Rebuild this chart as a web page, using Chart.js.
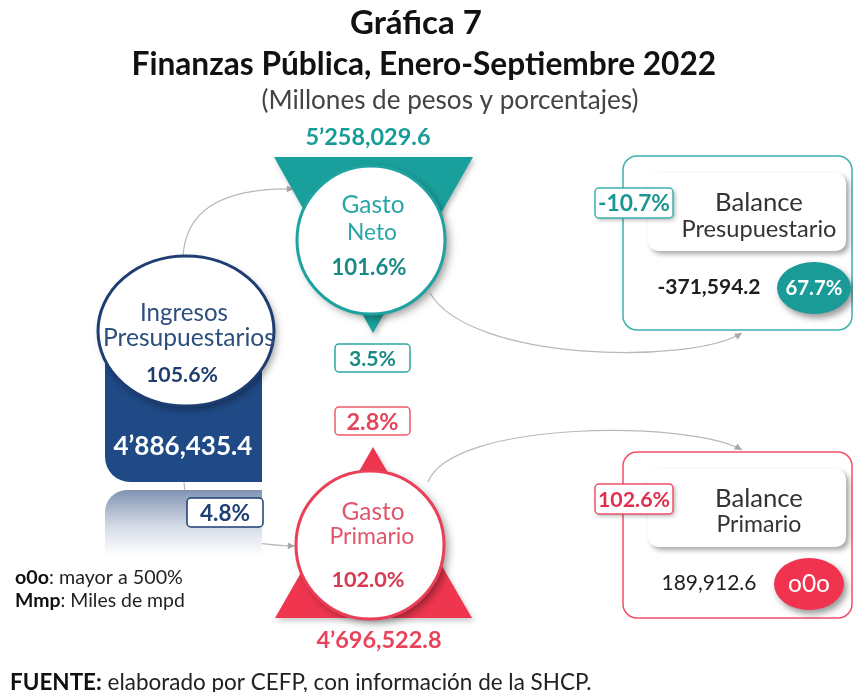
<!DOCTYPE html>
<html><head><meta charset="utf-8">
<script src="https://cdn.jsdelivr.net/npm/chart.js@4"></script>
<style>html,body{margin:0;padding:0;background:#fff}#wrap{width:853px;height:692px;position:relative}</style>
</head><body><div id="wrap"><canvas id="c"></canvas></div>
<script>
// ---------- DATA ----------
const nodeNames = ['Ingresos Presupuestarios', 'Gasto Neto', 'Gasto Primario', 'Balance Presupuestario', 'Balance Primario'];
const nodeAmounts = [4886435.4, 5258029.6, 4696522.8, -371594.2, 189912.6];
const advancePct = [105.6, 101.6, 102.0, 67.7, null];   // null => o0o (mayor a 500%)
const realGrowthPct = [4.8, 3.5, 2.8, -10.7, 102.6];
const titleLines = ['Gráfica 7', 'Finanzas Pública, Enero-Septiembre 2022'];
const subtitleText = '(Millones de pesos y porcentajes)';
const legendNotes = [['o0o', ': mayor a 500%'], ['Mmp', ': Miles de mpd']];
const sourceNote = ['FUENTE:', ' elaborado por CEFP, con información de la SHCP.'];

// ---------- LAYOUT (chart units) ----------
const nodePos = [{x:186,y:331},{x:371,y:240},{x:370,y:545},{x:738,y:242},{x:738,y:535}];
const FONT = 'Lato, "DejaVu Sans", sans-serif';
const C = {
  blue:'#1f4a86', blueDark:'#1d3d73', blueTxt:'#2c4f7e',
  teal:'#19a09d', tealTxt:'#1b8a86', tealLight:'#2aa6a6',
  red:'#f0364f', redTxt:'#e0405a', redLight:'#e0566b',
  gray:'#b9b9b9', dark:'#1e1e1e'
};

function fmtAmount(v){
  const neg = v < 0; const a = Math.abs(v);
  const parts = a.toFixed(1).split('.');
  let s = parts[0].replace(/\B(?=(\d{3})+(?!\d))/g, ',');
  if (parts[0].length > 6) s = s.replace(',', '’');
  return (neg ? '-' : '') + s + '.' + parts[1];
}
function fmtPct(v){ return v === null ? 'o0o' : v.toFixed(1) + '%'; }

const infographic = {
  id: 'infographic',
  afterDraw(chart){
    const ctx = chart.ctx;
    const xs = chart.scales.x, ys = chart.scales.y;
    const X = v => xs.getPixelForValue(v), Y = v => ys.getPixelForValue(v);
    const meta = chart.getDatasetMeta(0).data;

    function rrect(x1,y1,x2,y2,r){
      const x=X(x1), y=Y(y1), w=X(x2)-X(x1), h=Y(y2)-Y(y1);
      const [tl,tr,br,bl] = Array.isArray(r) ? r : [r,r,r,r];
      ctx.beginPath();
      ctx.moveTo(x+tl,y); ctx.lineTo(x+w-tr,y); ctx.arcTo(x+w,y,x+w,y+tr,tr);
      ctx.lineTo(x+w,y+h-br); ctx.arcTo(x+w,y+h,x+w-br,y+h,br);
      ctx.lineTo(x+bl,y+h); ctx.arcTo(x,y+h,x,y+h-bl,bl);
      ctx.lineTo(x,y+tl); ctx.arcTo(x,y,x+tl,y,tl); ctx.closePath();
    }
    function shadow(on, blur=6, ox=3, oy=3, col='rgba(0,0,0,0.35)'){
      if (on){ ctx.shadowColor=col; ctx.shadowBlur=blur; ctx.shadowOffsetX=ox; ctx.shadowOffsetY=oy; }
      else { ctx.shadowColor='transparent'; ctx.shadowBlur=0; ctx.shadowOffsetX=0; ctx.shadowOffsetY=0; }
    }
    function text(segs, x, y, w, align='center'){
      let total = 0;
      segs.forEach(s => { ctx.font = `${s[1]} 100px ${FONT}`; total += ctx.measureText(s[0]).width; });
      const size = 100 * w / total;
      let sx = align === 'center' ? X(x) - w/2 : X(x);
      ctx.textAlign = 'left'; ctx.textBaseline = 'middle';
      segs.forEach(s => {
        ctx.font = `${s[1]} ${size}px ${FONT}`; ctx.fillStyle = s[2];
        ctx.fillText(s[0], sx, Y(y)); sx += ctx.measureText(s[0]).width;
      });
    }
    function T(str, x, y, w, weight, color, align){ text([[str, weight, color]], x, y, w, align); }
    function curve(pts){
      ctx.save(); shadow(false);
      ctx.strokeStyle = C.gray; ctx.lineWidth = 1.2;
      ctx.beginPath(); ctx.moveTo(X(pts[0][0]),Y(pts[0][1]));
      ctx.bezierCurveTo(X(pts[1][0]),Y(pts[1][1]),X(pts[2][0]),Y(pts[2][1]),X(pts[3][0]),Y(pts[3][1]));
      ctx.stroke();
      const ex=X(pts[3][0]), ey=Y(pts[3][1]);
      const ang = Math.atan2(ey-Y(pts[2][1]), ex-X(pts[2][0]));
      ctx.fillStyle = '#a8a8a8';
      ctx.beginPath(); ctx.moveTo(ex,ey);
      ctx.lineTo(ex-8*Math.cos(ang-0.45), ey-8*Math.sin(ang-0.45));
      ctx.lineTo(ex-8*Math.cos(ang+0.45), ey-8*Math.sin(ang+0.45));
      ctx.closePath(); ctx.fill(); ctx.restore();
    }
    function pctBox(x1,y1,x2,y2,col,str,w,tcol,sh){
      ctx.save();
      if (sh) shadow(true,4,2,2,'rgba(0,0,0,0.3)');
      rrect(x1,y1,x2,y2,4); ctx.fillStyle='#fff'; ctx.fill(); shadow(false);
      ctx.strokeStyle=col; ctx.lineWidth=1.5; ctx.stroke(); ctx.restore();
      T(str,(x1+x2)/2,(y1+y2)/2+1,w,'bold',tcol);
    }

    ctx.save();
    // ---- titles ----
    T(titleLines[0], 416, 23, 132, 'bold', '#111');
    T(titleLines[1], 424, 65, 585, 'bold', '#111');
    T(subtitleText, 450, 101, 377, 'normal', '#444');

    // ---- connectors ----
    curve([[183,258],[185,200],[240,188],[294,189]]);
    curve([[184,482],[185,530],[240,545],[295,546]]);
    curve([[430,293],[470,362],[690,365],[742,333]]);
    curve([[428,482],[452,420],[690,420],[742,450]]);

    // ---- Ingresos Presupuestarios ----
    const n0 = meta[0];
    const g = ctx.createLinearGradient(0, Y(490), 0, Y(556));
    g.addColorStop(0,'#8193b2'); g.addColorStop(0.55,'#d5dbe6'); g.addColorStop(1,'#ffffff');
    rrect(105,490,262,556,[22,0,0,0]); ctx.fillStyle=g; ctx.fill();
    rrect(105,355,262,482,[0,0,0,25]); ctx.fillStyle=C.blue; ctx.fill();
    ctx.save(); shadow(true,7,3,4);
    ctx.beginPath(); ctx.ellipse(n0.x, n0.y, 88, 75, 0, 0, Math.PI*2);
    ctx.fillStyle='#fff'; ctx.fill(); shadow(false);
    ctx.lineWidth=3; ctx.strokeStyle=C.blueDark; ctx.stroke(); ctx.restore();
    T('Ingresos', 184, 313, 88, 'normal', C.blueTxt);
    T('Presupuestarios', 189, 338, 172, 'normal', C.blueTxt);
    T(fmtPct(advancePct[0]), 182, 375, 72, 'bold', '#1f3f6e');
    T(fmtAmount(nodeAmounts[0]), 183, 447, 139, 'bold', '#fff');
    pctBox(187,498,263,527,C.blueDark,fmtPct(realGrowthPct[0]),50,'#1f3f75',false);

    // ---- Gasto Neto ----
    const n1 = meta[1];
    T(fmtAmount(nodeAmounts[1]), 368, 137, 125, 'bold', '#179c98');
    ctx.save(); shadow(true,5,2,3,'rgba(0,0,0,0.25)');
    ctx.beginPath(); ctx.moveTo(X(274),Y(157)); ctx.lineTo(X(473),Y(157)); ctx.lineTo(X(373),Y(333)); ctx.closePath();
    ctx.fillStyle=C.teal; ctx.fill(); ctx.restore();
    ctx.save(); shadow(true,8,4,4,'rgba(0,0,0,0.4)');
    ctx.beginPath(); ctx.arc(n1.x, n1.y, 74, 0, Math.PI*2); ctx.fillStyle='#fff'; ctx.fill(); shadow(false);
    ctx.lineWidth=3; ctx.strokeStyle='#1ea3a0'; ctx.stroke(); ctx.restore();
    T('Gasto', 373, 205, 63, 'normal', C.tealLight);
    T('Neto', 372, 233, 50, 'normal', C.tealLight);
    T(fmtPct(advancePct[1]), 369, 268, 75, 'bold', C.tealTxt);
    pctBox(335,344,410,372,'#2aa8a4',fmtPct(realGrowthPct[1]),47,C.tealTxt,false);

    // ---- Gasto Primario ----
    const n2 = meta[2];
    pctBox(335,407,410,435,'#ef5a6e',fmtPct(realGrowthPct[2]),52,'#e2465c',false);
    ctx.save(); shadow(true,5,2,3,'rgba(0,0,0,0.2)');
    ctx.beginPath(); ctx.moveTo(X(373),Y(447)); ctx.lineTo(X(472),Y(618)); ctx.lineTo(X(275),Y(618)); ctx.closePath();
    ctx.fillStyle=C.red; ctx.fill(); ctx.restore();
    ctx.save(); shadow(true,8,4,4,'rgba(0,0,0,0.4)');
    ctx.beginPath(); ctx.arc(n2.x, n2.y, 74, 0, Math.PI*2); ctx.fillStyle='#fff'; ctx.fill(); shadow(false);
    ctx.lineWidth=3; ctx.strokeStyle='#ea3f58'; ctx.stroke(); ctx.restore();
    T('Gasto', 373, 512, 63, 'normal', C.redLight);
    T('Primario', 372, 537, 85, 'normal', C.redLight);
    T(fmtPct(advancePct[2]), 368, 580, 73, 'bold', '#d63a50');
    T(fmtAmount(nodeAmounts[2]), 379, 640, 125, 'bold', '#e8435a');

    // ---- Balance boxes ----
    function balance(i, top, bottom, col, tcol, label2, w2, valW, valWeight, badgeCol, badgeRx, badgeX, badgeW, badgeWeight){
      ctx.save();
      rrect(623, top, 852, bottom, 14); ctx.strokeStyle=col; ctx.lineWidth=1.5; ctx.stroke();
      shadow(true,5,3,3,'rgba(0,0,0,0.35)');
      rrect(648, top+17, 846, top+95, 10); ctx.fillStyle='#fff'; ctx.fill();
      ctx.restore();
      T('Balance', 759, top+47, 88, 'normal', '#333');
      T(label2, 759, top+73, w2, 'normal', '#333');
      pctBox(595, top+32, 673, top+62, col, fmtPct(realGrowthPct[i]), 72, tcol, true);
      const vy = top + 131;
      T(fmtAmount(nodeAmounts[i]), 709, vy, valW, valWeight, '#1e1e1e');
      ctx.save(); shadow(true,6,3,4,'rgba(0,0,0,0.4)');
      ctx.beginPath(); ctx.ellipse(X(badgeX), Y(vy+1), badgeRx, 26, 0, 0, Math.PI*2);
      ctx.fillStyle=badgeCol; ctx.fill(); ctx.restore();
      T(fmtPct(advancePct[i]), badgeX, vy+1, badgeW, badgeWeight, '#fff');
    }
    balance(3, 156, 330, '#3fb1ae', '#1c9693', 'Presupuestario', 155, 103, 'bold', '#1a9b98', 37, 814, 57, 'bold');
    balance(4, 452, 618, '#ee5068', '#e0304d', 'Primario', 85, 95, 'normal', '#f0344f', 35, 809, 42, 'normal');

    // ---- notes ----
    legendNotes.forEach((n, i) => {
      text([[n[0],'bold','#111'],[n[1],'normal','#222']], 15, 578 + i*23, i ? 170 : 168, 'left');
    });
    text([[sourceNote[0],'bold','#111'],[sourceNote[1],'normal','#222']], 10, 683, 582, 'left');
    ctx.restore();
  }
};

new Chart(document.getElementById('c'), {
  type: 'scatter',
  data: { datasets: [{ label: 'nodos', data: nodeNames.map((n,i) => ({x: nodePos[i].x, y: nodePos[i].y, name: n})), pointRadius: 0 }] },
  options: {
    responsive: true, maintainAspectRatio: false, animation: false, events: [],
    layout: { padding: 0 },
    plugins: { legend: {display:false}, tooltip: {enabled:false} },
    scales: {
      x: { type:'linear', min:0, max:853, display:false },
      y: { type:'linear', min:0, max:692, reverse:true, display:false }
    }
  },
  plugins: [infographic]
});
</script>
</body></html>
